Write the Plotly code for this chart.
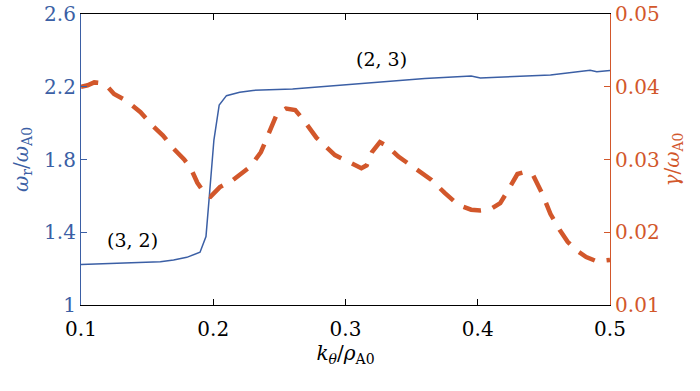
import plotly.graph_objects as go

# ---- data ----
k_wr = [0.100, 0.120, 0.140, 0.160, 0.170, 0.180, 0.190, 0.1945, 0.197, 0.2005,
        0.2045, 0.210, 0.220, 0.230, 0.260, 0.290, 0.320, 0.360, 0.395, 0.402,
        0.415, 0.455, 0.485, 0.490, 0.500]
omega_r = [1.222, 1.228, 1.232, 1.238, 1.247, 1.262, 1.290, 1.376, 1.595, 1.907,
           2.100, 2.151, 2.170, 2.180, 2.188, 2.205, 2.220, 2.245, 2.259, 2.248,
           2.252, 2.264, 2.290, 2.282, 2.290]

k_gam = [0.100, 0.105, 0.110, 0.115, 0.120, 0.125, 0.135, 0.145, 0.155, 0.162,
         0.170, 0.178, 0.183, 0.188, 0.194, 0.198, 0.205, 0.215, 0.228, 0.236,
         0.242, 0.248, 0.255, 0.262, 0.268, 0.278, 0.292, 0.304, 0.312, 0.316,
         0.320, 0.326, 0.332, 0.340, 0.352, 0.365, 0.375, 0.385, 0.395, 0.402,
         0.410, 0.417, 0.423, 0.430, 0.436, 0.442, 0.449, 0.455, 0.462, 0.468,
         0.474, 0.482, 0.490, 0.500]
gamma = [0.0400, 0.0402, 0.0406, 0.0405, 0.0400, 0.0390, 0.0380, 0.0365, 0.0345, 0.0333,
         0.0315, 0.0300, 0.0288, 0.0268, 0.0252, 0.0249, 0.0262, 0.0272, 0.0290, 0.0310,
         0.0336, 0.0362, 0.0370, 0.0368, 0.0355, 0.0330, 0.0306, 0.0295, 0.0288, 0.0292,
         0.0310, 0.0324, 0.0318, 0.0304, 0.0288, 0.0272, 0.0254, 0.0238, 0.0231, 0.0230,
         0.0232, 0.0240, 0.0258, 0.0280, 0.0283, 0.0278, 0.0252, 0.0225, 0.0203, 0.0187,
         0.0176, 0.0166, 0.0160, 0.0162]

x_ticks = [0.1, 0.2, 0.3, 0.4, 0.5]
y1_ticks = [1, 1.4, 1.8, 2.2, 2.6]
y1_labels = ["1", "1.4", "1.8", "2.2", "2.6"]
y2_ticks = [0.01, 0.02, 0.03, 0.04, 0.05]
y2_labels = ["0.01", "0.02", "0.03", "0.04", "0.05"]

BLUE = "#3B5FA5"
ORANGE = "#D2572B"
FONT = "DejaVu Serif"
FS = 20

fig = go.Figure()
fig.add_trace(go.Scatter(x=k_wr, y=omega_r, mode="lines",
                         line=dict(color=BLUE, width=1.5), showlegend=False))
fig.add_trace(go.Scatter(x=k_gam, y=gamma, mode="lines", yaxis="y2",
                         line=dict(color=ORANGE, width=4.5, dash="18px,12px"),
                         showlegend=False))

fig.add_annotation(x=0.139, y=1.36, text="(3, 2)", showarrow=False,
                   font=dict(family=FONT, size=19, color="black"))
fig.add_annotation(x=0.327, y=2.35, text="(2, 3)", showarrow=False,
                   font=dict(family=FONT, size=19, color="black"))

fig.update_layout(
    width=700, height=391,
    margin=dict(l=81, r=90, t=14, b=86),
    plot_bgcolor="white", paper_bgcolor="white",
    font=dict(family=FONT, size=FS, color="black"),
    xaxis=dict(range=[0.1, 0.5], tickvals=x_ticks, ticktext=[str(t) for t in x_ticks],
               showgrid=False, zeroline=False, showline=True, linecolor="black",
               linewidth=1.2, mirror="ticks", ticks="inside", ticklen=6,
               tickcolor="black", tickfont=dict(family=FONT, size=FS, color="black"),
               automargin=False, ticklabelstandoff=6, ticklabeloverflow="allow",
               title=dict(text="<i>k</i><sub><i>θ</i></sub>/<i>ρ</i><sub>A0</sub>",
                          font=dict(family=FONT, size=FS, color="black"), standoff=2)),
    yaxis=dict(range=[1, 2.6], tickvals=y1_ticks, ticktext=y1_labels,
               showgrid=False, zeroline=False, showline=True, linecolor=BLUE,
               linewidth=1.2, ticks="inside", ticklen=6, tickcolor=BLUE,
               tickfont=dict(family=FONT, size=FS, color=BLUE), automargin=False,
               ticklabeloverflow="allow",
               title=dict(text="<i>ω</i><sub>r</sub>/<i>ω</i><sub>A0</sub>",
                          font=dict(family=FONT, size=FS, color=BLUE), standoff=10)),
    yaxis2=dict(range=[0.01, 0.05], tickvals=y2_ticks, ticktext=y2_labels,
                overlaying="y", side="right", anchor="x",
                showgrid=False, zeroline=False, showline=True, linecolor=ORANGE,
                linewidth=1.2, ticks="inside", ticklen=6, tickcolor=ORANGE,
                tickfont=dict(family=FONT, size=FS, color=ORANGE), automargin=False,
                ticklabeloverflow="allow",
                title=dict(text="<i>γ</i>/<i>ω</i><sub>A0</sub>",
                           font=dict(family=FONT, size=FS, color=ORANGE), standoff=6)),
)

fig.write_html("out.html", config={"displayModeBar": False},
               post_script="document.body.style.margin='0px';")
